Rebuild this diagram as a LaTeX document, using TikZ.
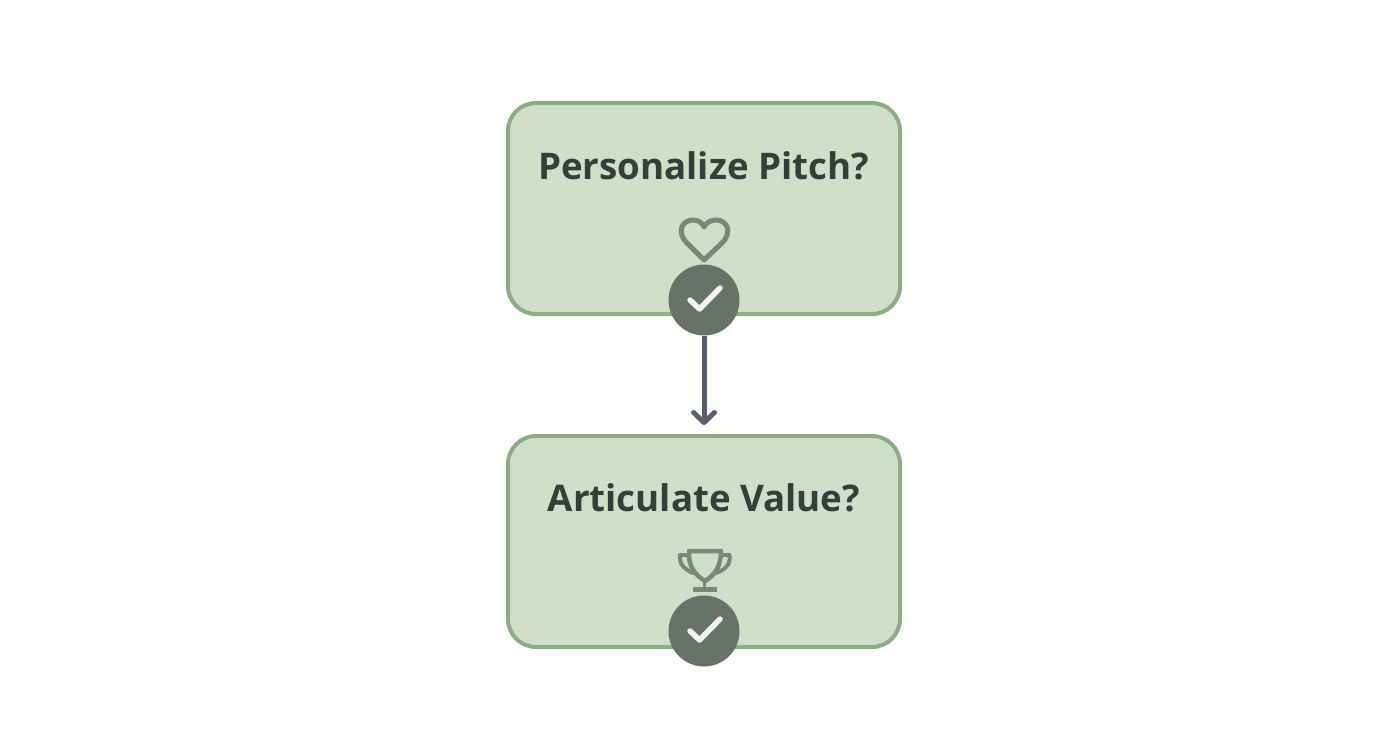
\documentclass[tikz,border=0pt]{standalone}
\usepackage{fontspec}
\setmainfont{Open Sans}
\usetikzlibrary{arrows.meta,calc}
\definecolor{boxfill}{HTML}{D0DFC9}
\definecolor{boxline}{HTML}{8BAC84}
\definecolor{badge}{HTML}{65736B}
\definecolor{iconline}{HTML}{75887A}
\definecolor{flow}{HTML}{565F6E}
\definecolor{ink}{HTML}{363D3B}
\definecolor{tick}{HTML}{F2F4EF}
\tikzset{
  stepbox/.style={draw=boxline,fill=boxfill,line width=4pt,rounded corners=28pt,minimum width=392pt,minimum height=211pt,inner sep=0pt},
  title/.style={text=ink,font=\fontsize{36.7}{40}\selectfont\bfseries,inner sep=0pt,anchor=base},
  badgedot/.style={circle,fill=badge,minimum size=71pt,inner sep=0pt},
  tickmark/.style={draw=tick,line width=5.5pt,line cap=round,line join=round},
  icon/.style={draw=iconline,line width=5pt,line join=round,line cap=round},
  flowline/.style={draw=flow,line width=5pt,-{Straight Barb[length=10pt,width=21pt,line width=5pt,round]}}
}
\begin{document}
\begin{tikzpicture}[x=1pt,y=-1pt]
\useasboundingbox[fill=white!99!boxfill] (0,0) rectangle (1392,752);
\node[stepbox] (box1) at (704,208.5) {};
\node[stepbox] (box2) at (704,541.5) {};
\node[title] (t1) at (703.5,179.5) {Personalize Pitch?};
\node[title] (t2) at (704,511.5) {Articulate Value?};
% heart
\draw[icon] (704,260) -- (687,243) .. controls (676,232) and (682,220) .. (693,220) .. controls (699,220) and (702,223) .. (704,227) .. controls (706,223) and (710,220) .. (716,220) .. controls (727,220) and (733,232) .. (722,243) -- cycle;
% trophy
\draw[icon,line width=4.5pt] (689,551) -- (721,551) .. controls (721,566) and (715,575) .. (705,581) .. controls (695,575) and (688,566) .. (689,551) -- cycle;
\draw[icon,line width=4pt] (689,555) -- (680,555) -- (680,560) .. controls (681,566) and (686,570) .. (693,573);
\draw[icon,line width=4pt] (721,555) -- (729.5,555) -- (729.5,560) .. controls (729,566) and (724,570) .. (716,573);
\draw[icon,line width=3.5pt] (704.5,581) -- (704.5,586);
\draw[icon,line cap=butt,line width=5pt] (693,589.5) -- (717,589.5);
% badges
\node[badgedot] (c1) at (704,300) {};
\node[badgedot] (c2) at (704,631) {};
\draw[tickmark] (690,300) -- (699.5,309) -- (720,288);
\draw[tickmark] (690,631) -- (699.5,640) -- (720,619);
% connector
\draw[flowline,shorten >=9pt] (c1.south) -- (box2.north);
\end{tikzpicture}
\end{document}
